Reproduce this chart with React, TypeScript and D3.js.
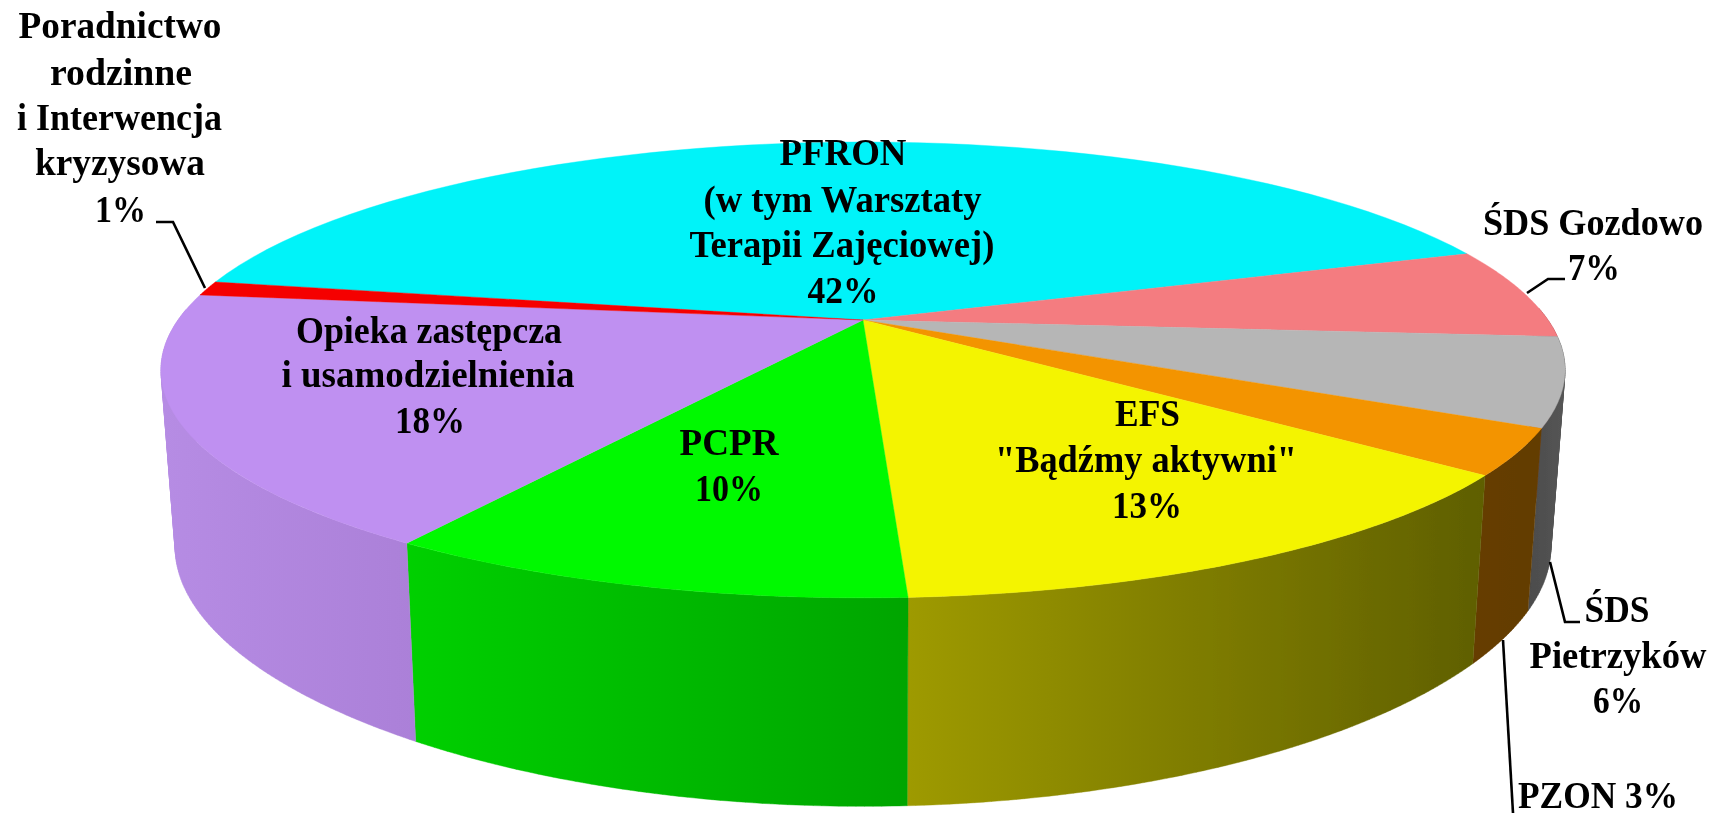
import * as d3 from 'd3';

// Slice shares, clockwise from the back-left edge of the PFRON slice
const sliceNames = ['PFRON', 'SDS Gozdowo', 'SDS Pietrzykow', 'PZON', 'EFS', 'PCPR', 'Opieka', 'Poradnictwo'];
const sliceValues = [41.8, 6.5, 6.25, 3.2, 13.55, 9.97, 17.75, 1.03];
const topColors = ['#00f3f9', '#f47b80', '#b6b6b6', '#f39400', '#f4f400', '#00f900', '#bf90f1', '#f50000'];
const wallColorsLeft = ['#009a9e', '#9c4e51', '#4c4c4c', '#663e00', '#9e9a00', '#00d000', '#b68ce4', '#a00000'];
const wallColorsRight = ['#009a9e', '#9c4e51', '#555555', '#633c00', '#5f5f00', '#00a500', '#ab80d8', '#a00000'];

const labelTexts = [
  'Poradnictwo', 'rodzinne', 'i Interwencja', 'kryzysowa', '1%',
  'PFRON', '(w tym Warsztaty', 'Terapii Zajęciowej)', '42%',
  'ŚDS Gozdowo', '7%',
  'Opieka zastępcza', 'i usamodzielnienia', '18%',
  'PCPR', '10%',
  'EFS', '"Bądźmy aktywni"', '13%',
  'ŚDS', 'Pietrzyków', '6%',
  'PZON 3%',
];

// x centre, baseline, width of each label line, in the order of labelTexts
const labelLayout = [
  [120, 38, 203], [121, 85, 142], [119.5, 130, 205], [120, 175, 170], [120.5, 222, 51],
  [843, 165, 127], [842.5, 212, 278], [842, 257, 305], [843, 303, 71],
  [1593, 235, 220], [1594, 280, 52],
  [429, 343, 266], [428, 387, 293], [430, 433, 70],
  [729, 455, 99], [729, 501, 68],
  [1147.5, 426, 65], [1146, 472, 302], [1147, 518, 70],
  [1617, 622, 65], [1618, 668, 177], [1618, 713, 50],
  [1598, 808, 160],
];

const leaders = [
  [[156, 222], [173, 222], [205, 288]],
  [[1527, 293], [1548, 279], [1565, 279]],
  [[1550, 562], [1565, 622], [1580, 622]],
  [[1503, 640], [1513, 813]],
];

const cx = 863;
const topPlane = { y: 320, rx: 685, ry: 217, k: 0.219, kx: 0.219 };
const bottomPlane = { y: 494, rx: 671, ry: 228, k: 0.27, kx: 0.22 };
const startDeg = -79.5;

type Plane = typeof topPlane;

// Perspective projection of a rim point at angle t, clockwise from the back
function project(p: Plane, t: number): [number, number] {
  const X = Math.sin(t);
  const Y = -Math.cos(t);
  return [cx + (p.rx * X) / (1 - p.kx * Y), p.y + (p.ry * Y) / (1 - p.k * Y)];
}

const pieLayout = d3
  .pie<number>()
  .sort(null)
  .startAngle((startDeg * Math.PI) / 180)
  .endAngle((startDeg * Math.PI) / 180 + Math.PI * 2);

const lineGen = d3.line();

export default function App() {
  const arcs = pieLayout(sliceValues);

  const tops = arcs.map((a) => {
    const angles = d3.range(0, 61).map((i) => a.startAngle + ((a.endAngle - a.startAngle) * i) / 60);
    return lineGen([[cx, topPlane.y], ...angles.map((t) => project(topPlane, t))]) + 'Z';
  });

  // one path per wall, made of thin strips so the silhouette runs straight between both rims
  const walls = arcs.map((a) => {
    const n = Math.max(2, Math.ceil((a.endAngle - a.startAngle) / 0.01));
    let d = '';
    for (let j = 0; j < n; j++) {
      const t0 = a.startAngle + ((a.endAngle - a.startAngle) * j) / n;
      const t1 = a.startAngle + ((a.endAngle - a.startAngle) * (j + 1)) / n;
      if (-Math.cos((t0 + t1) / 2) < -0.05) continue;
      const quad = [project(topPlane, t0), project(topPlane, t1), project(bottomPlane, t1), project(bottomPlane, t0)];
      // same winding on every strip, or strips that overlap at the silhouette cancel out
      if (d3.polygonArea(quad) < 0) quad.reverse();
      d += lineGen(quad) + 'Z';
    }
    return d;
  });

  const xRange = arcs.map((a) => {
    const xs = d3.range(0, 41).flatMap((i) => {
      const t = a.startAngle + ((a.endAngle - a.startAngle) * i) / 40;
      return [project(topPlane, t)[0], project(bottomPlane, t)[0]];
    });
    return d3.extent(xs) as [number, number];
  });

  return (
    <svg
      width={1714}
      height={813}
      viewBox="0 0 1714 813"
      style={{ position: 'absolute', left: 0, top: 0, display: 'block', background: '#fff' }}
    >
      <defs>
        {arcs.map((a, i) => (
          <linearGradient
            key={i}
            id={`wall-${i}`}
            gradientUnits="userSpaceOnUse"
            x1={xRange[i][0]}
            x2={xRange[i][1]}
            y1={0}
            y2={0}
          >
            <stop offset="0" stopColor={wallColorsLeft[i]} />
            <stop offset="1" stopColor={wallColorsRight[i]} />
          </linearGradient>
        ))}
        <filter id="soft" x="-5%" y="-5%" width="110%" height="110%">
          <feGaussianBlur stdDeviation="0.45" />
        </filter>
      </defs>

      <g filter="url(#soft)">
        <g>
          {walls.map((d, i) => (
            <path key={i} d={d} fill={`url(#wall-${i})`} fillRule="nonzero" stroke={`url(#wall-${i})`} strokeWidth={0.4} />
          ))}
        </g>

        <g>
          {tops.map((d, i) => (
            <path key={sliceNames[i]} d={d} fill={topColors[i]} stroke={topColors[i]} strokeWidth={0.4} />
          ))}
        </g>

        <g fill="none" stroke="#000" strokeWidth={2.6}>
          {leaders.map((l, i) => (
            <path key={i} d={lineGen(l as [number, number][]) as string} />
          ))}
        </g>

        <g fontFamily="'Liberation Serif', serif" fontWeight="bold" fontSize={37} textAnchor="middle" fill="#000">
          {labelTexts.map((t, i) => (
            <text
              key={i}
              x={labelLayout[i][0]}
              y={labelLayout[i][1]}
              textLength={labelLayout[i][2]}
              lengthAdjust="spacingAndGlyphs"
            >
              {t}
            </text>
          ))}
        </g>
      </g>
    </svg>
  );
}
